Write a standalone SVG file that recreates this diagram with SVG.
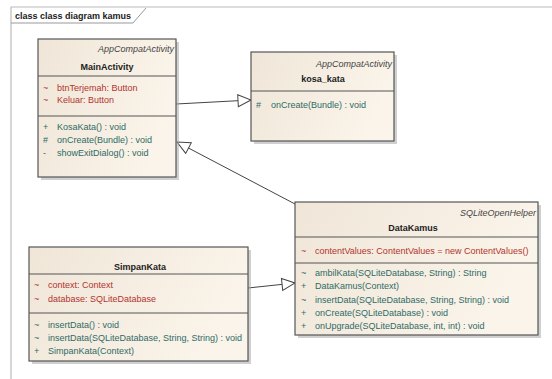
<svg xmlns="http://www.w3.org/2000/svg" width="552" height="379" viewBox="0 0 552 379">
<defs>
<linearGradient id="bg" x1="0" y1="0" x2="1" y2="0.3">
<stop offset="0" stop-color="#efe6d8"/>
<stop offset="1" stop-color="#fbf4ea"/>
</linearGradient>
<marker id="gen" markerWidth="16" markerHeight="16" refX="14" refY="7" orient="auto" markerUnits="userSpaceOnUse">
<path d="M1,1 L14,7 L1,13 Z" fill="#fff" stroke="#444" stroke-width="1"/>
</marker>
</defs>
<style>
text{font-family:"Liberation Sans",Arial,sans-serif;font-size:9px}
.box{fill:url(#bg);stroke:#555;stroke-width:1.2}
.shadow{fill:#aaa;opacity:0.55}
.sep{stroke:#555;stroke-width:1}
.st{font-style:italic;fill:#444;text-anchor:end}
.nm{font-weight:bold;fill:#222;text-anchor:middle}
.at{fill:#b3332e}
.op{fill:#2f6b66}
.frame{fill:none;stroke:#bbb;stroke-width:1.2}
.conn{stroke:#444;stroke-width:1;fill:none}
</style>
<rect width="552" height="379" fill="#fff"/>
<g id="frame">
<path class="frame" d="M11,379 L11,7 L552,7"/>
<path d="M11,23 L133,23 L146,8" fill="none" stroke="#999" stroke-width="1"/>
<text x="15" y="19" style="font-weight:bold;fill:#222">class class diagram kamus</text>
</g>
<g id="connectors">
<line class="conn" x1="176" y1="104" x2="251" y2="100" marker-end="url(#gen)"/>
<line class="conn" x1="295" y1="204" x2="177" y2="142" marker-end="url(#gen)"/>
<line class="conn" x1="248" y1="288" x2="295" y2="283" marker-end="url(#gen)"/>
</g>
<g id="MainActivity">
<rect class="shadow" x="41" y="42" width="138" height="138"/>
<rect class="box" x="38" y="39" width="138" height="138"/>
<line class="sep" x1="38" y1="76" x2="176" y2="76"/>
<line class="sep" x1="38" y1="116" x2="176" y2="116"/>
<text class="st" x="174" y="52">AppCompatActivity</text>
<text class="nm" x="107" y="70">MainActivity</text>
<text class="at" x="43" y="91">~</text><text class="at" x="57" y="91">btnTerjemah:  Button</text>
<text class="at" x="43" y="103">~</text><text class="at" x="57" y="103">Keluar:  Button</text>
<text class="op" x="43" y="130">+</text><text class="op" x="57" y="130">KosaKata() : void</text>
<text class="op" x="43" y="143">#</text><text class="op" x="57" y="143">onCreate(Bundle) : void</text>
<text class="op" x="43" y="156">-</text><text class="op" x="57" y="156">showExitDialog() : void</text>
</g>
<g id="kosa_kata">
<rect class="shadow" x="254" y="55" width="143" height="89"/>
<rect class="box" x="251" y="52" width="143" height="89"/>
<line class="sep" x1="251" y1="91" x2="394" y2="91"/>
<text class="st" x="392" y="67">AppCompatActivity</text>
<text class="nm" x="323" y="82">kosa_kata</text>
<text class="op" x="256" y="108">#</text><text class="op" x="271" y="108">onCreate(Bundle) : void</text>
</g>
<g id="DataKamus">
<rect class="shadow" x="298" y="205" width="243" height="133"/>
<rect class="box" x="295" y="202" width="243" height="133"/>
<line class="sep" x1="295" y1="237" x2="538" y2="237"/>
<line class="sep" x1="295" y1="263" x2="538" y2="263"/>
<text class="st" x="536" y="216">SQLiteOpenHelper</text>
<text class="nm" x="413" y="231">DataKamus</text>
<text class="at" x="301" y="254">~</text><text class="at" x="315" y="254">contentValues:  ContentValues = new ContentValues()</text>
<text class="op" x="301" y="276">~</text><text class="op" x="315" y="276">ambilKata(SQLiteDatabase, String) : String</text>
<text class="op" x="301" y="289">+</text><text class="op" x="315" y="289">DataKamus(Context)</text>
<text class="op" x="301" y="303">~</text><text class="op" x="315" y="303">insertData(SQLiteDatabase, String, String) : void</text>
<text class="op" x="301" y="316">+</text><text class="op" x="315" y="316">onCreate(SQLiteDatabase) : void</text>
<text class="op" x="301" y="329">+</text><text class="op" x="315" y="329">onUpgrade(SQLiteDatabase, int, int) : void</text>
</g>
<g id="SimpanKata">
<rect class="shadow" x="32" y="250" width="219" height="114"/>
<rect class="box" x="29" y="247" width="219" height="114"/>
<line class="sep" x1="29" y1="274" x2="248" y2="274"/>
<line class="sep" x1="29" y1="313" x2="248" y2="313"/>
<text class="nm" x="140" y="270">SimpanKata</text>
<text class="at" x="34" y="288">~</text><text class="at" x="48" y="288">context:  Context</text>
<text class="at" x="34" y="302">~</text><text class="at" x="48" y="302">database:  SQLiteDatabase</text>
<text class="op" x="34" y="328">~</text><text class="op" x="48" y="328">insertData() : void</text>
<text class="op" x="34" y="341">~</text><text class="op" x="48" y="341">insertData(SQLiteDatabase, String, String) : void</text>
<text class="op" x="34" y="354">+</text><text class="op" x="48" y="354">SimpanKata(Context)</text>
</g>
</svg>
